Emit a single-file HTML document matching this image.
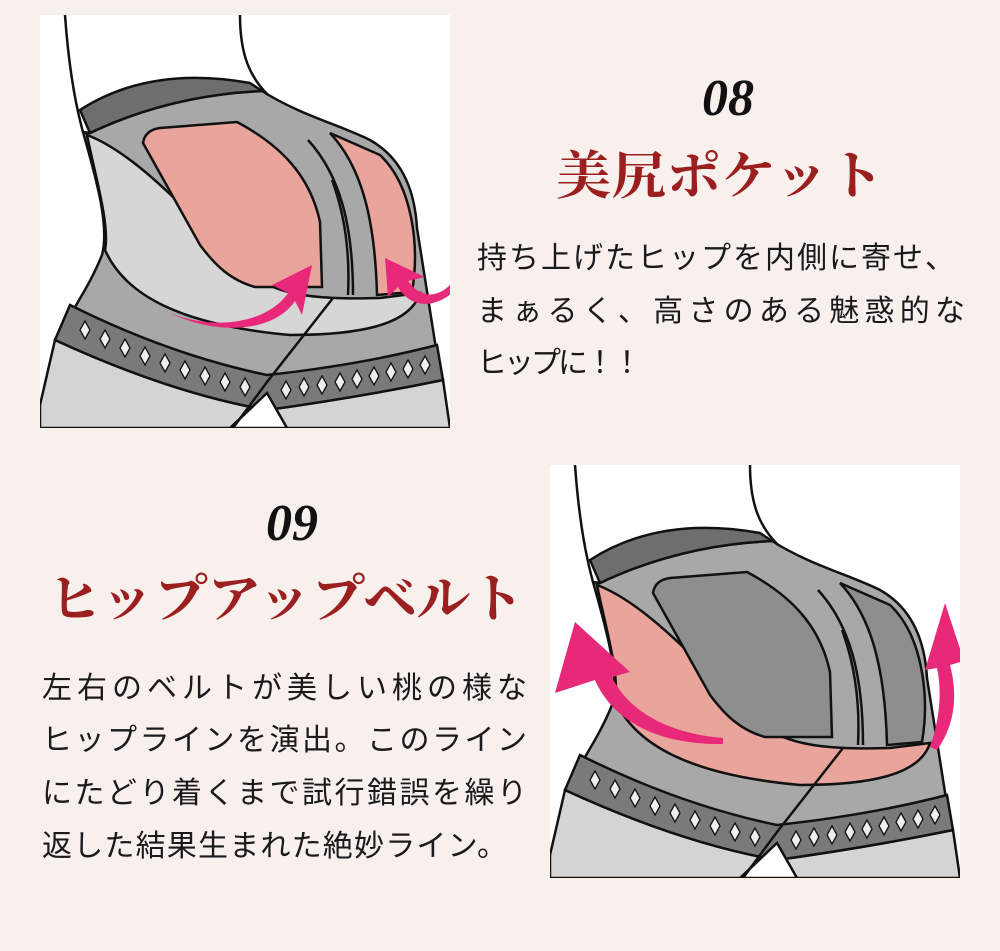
<!DOCTYPE html>
<html><head><meta charset="utf-8"><style>
html,body{margin:0;padding:0;background:#f7f0ed;}
svg{display:block}
.num{font-family:"Liberation Serif",serif;font-weight:bold;font-style:italic;font-size:52px;fill:#111}
.ttl{font-family:"Liberation Serif","Noto Serif CJK SC",serif;font-weight:bold;font-size:52px;fill:#9c1f20}
.bd{font-family:"Liberation Sans","Noto Sans CJK JP",sans-serif;font-size:30px;fill:#1a1a1a}
</style></head><body>
<svg width="1000" height="951" viewBox="0 0 1000 951" xmlns="http://www.w3.org/2000/svg">
<defs>
<polygon id="dm" points="0,-9 5,0 0,9 -5,0" fill="#eee" stroke="#111" stroke-width="1.3"/>
<clipPath id="cp"><rect x="0" y="0" width="410" height="413"/></clipPath>
<g id="base">
<rect x="0" y="0" width="410" height="413" fill="#fff"/>
<path d="M43,117 C55,160 70,210 62,240 C50,270 35,290 25,310 L0,390 L0,413 L410,413 L397,340 L377,213 C375,180 365,145 330,125 C300,110 260,100 222,76 Q130,80 50,118 Z" fill="#a8a8a8" stroke="#111" stroke-width="2.5"/>
<path d="M40,95 Q110,50 210,68 L222,76 Q130,80 50,118 Z" fill="#6e6e6e" stroke="#111" stroke-width="2.5"/>
<path d="M15,325 Q130,378 227,395 Q320,382 403,365 L410,413 L0,413 L0,390 Z" fill="#d4d4d4" stroke="#111" stroke-width="2.5"/>
<path d="M30,290 Q130,340 227,360 Q320,350 397,330 L403,365 Q320,382 227,395 Q130,378 15,325 Z" fill="#7a7a7a" stroke="#111" stroke-width="2.5"/>
<use href="#dm" x="45" y="315"/><use href="#dm" x="65" y="324"/><use href="#dm" x="85" y="333"/><use href="#dm" x="105" y="341"/><use href="#dm" x="125" y="348"/><use href="#dm" x="145" y="355"/><use href="#dm" x="165" y="361"/><use href="#dm" x="185" y="367"/><use href="#dm" x="205" y="372"/>
<use href="#dm" x="246" y="375"/><use href="#dm" x="264" y="372"/><use href="#dm" x="282" y="370"/><use href="#dm" x="300" y="367"/><use href="#dm" x="317" y="364"/><use href="#dm" x="334" y="361"/><use href="#dm" x="351" y="357"/><use href="#dm" x="368" y="354"/><use href="#dm" x="385" y="350"/>
<path d="M190,413 L227,378 L247,413 Z" fill="#fff" stroke="#111" stroke-width="2.5"/>
<path d="M25,0 Q30,70 43,117" fill="none" stroke="#111" stroke-width="2.5"/>
<path d="M200,0 C200,40 210,62 228,80" fill="none" stroke="#111" stroke-width="2.5"/>
</g>
</defs>
<g transform="translate(40,15)" clip-path="url(#cp)">
<use href="#base"/>
<path d="M47,120 C100,140 160,210 200,250 C230,280 270,285 340,283 L380,278 C370,310 320,320 250,320 C140,310 85,280 65,235 C70,210 55,160 47,120 Z" fill="#d6d6d6" stroke="#111" stroke-width="2.5"/>
<path d="M103,128 Q105,115 120,113 L197,107 C240,130 270,160 280,207 L282,272 L215,272 C190,265 175,250 160,230 Z" fill="#e9a59b" stroke="#111" stroke-width="2.5"/>
<path d="M290,118 C320,150 335,200 337,280 L372,277 C380,230 372,170 340,140 Z" fill="#e9a59b" stroke="#111" stroke-width="2.5"/>
<path d="M292,165 C305,200 310,240 308,280" fill="none" stroke="#111" stroke-width="2.5"/>
<path d="M268,125 C300,160 313,210 313,280" fill="none" stroke="#111" stroke-width="2.5"/>
<path d="M293,283 L227,367 L193,413" fill="none" stroke="#111" stroke-width="2.5"/>
<path d="M130,298 C180,318 230,305 248,278 L232,270 L272,250 L262,300 L255,286 C235,316 180,322 130,298 Z" fill="#e8297a"/>
<path d="M412,278 C390,296 368,290 358,272 L348,282 L345,243 L385,262 L368,266 C380,282 396,285 412,268 Z" fill="#e8297a"/>
</g>
<g transform="translate(550,465)" clip-path="url(#cp)">
<use href="#base"/>
<path d="M47,120 C100,140 160,210 200,250 C230,280 270,285 340,283 L380,278 C370,310 320,320 250,320 C140,310 85,280 65,235 C70,210 55,160 47,120 Z" fill="#e9a59b" stroke="#111" stroke-width="2.5"/>
<path d="M103,128 Q105,115 120,113 L197,107 C240,130 270,160 280,207 L282,272 L215,272 C190,265 175,250 160,230 Z" fill="#8e8e8e" stroke="#111" stroke-width="2.5"/>
<path d="M290,118 C320,150 335,200 337,280 L372,277 C380,230 372,170 340,140 Z" fill="#8e8e8e" stroke="#111" stroke-width="2.5"/>
<path d="M292,165 C305,200 310,240 308,280" fill="none" stroke="#111" stroke-width="2.5"/>
<path d="M268,125 C300,160 313,210 313,280" fill="none" stroke="#111" stroke-width="2.5"/>
<path d="M293,283 L227,367 L193,413" fill="none" stroke="#111" stroke-width="2.5"/>
<path d="M173,279 C100,280 60,250 45,215 L5,228 L25,157 L80,207 L62,212 C75,240 110,268 173,273 Z" fill="#e8297a"/>
<path d="M387,285 C405,260 408,230 400,200 L414,196 L395,138 L375,205 L387,203 C393,230 388,260 380,282 Z" fill="#e8297a"/>
</g>
<text class="num" x="728" y="115" text-anchor="middle">08</text>
<text class="ttl" x="556" y="194" textLength="328" lengthAdjust="spacingAndGlyphs">美尻ポケット</text>
<text class="bd" x="477" y="268" textLength="478" lengthAdjust="spacing">持ち上げたヒップを内側に寄せ、</text>
<text class="bd" x="477" y="321" textLength="488" lengthAdjust="spacing">まぁるく、高さのある魅惑的な</text>
<text class="bd" x="477" y="373" textLength="165" lengthAdjust="spacing">ヒップに！！</text>
<text class="num" x="292" y="540" text-anchor="middle">09</text>
<text class="ttl" x="48" y="617" textLength="476" lengthAdjust="spacingAndGlyphs">ヒップアップベルト</text>
<text class="bd" x="42" y="698" textLength="485" lengthAdjust="spacing">左右のベルトが美しい桃の様な</text>
<text class="bd" x="42" y="750" textLength="485" lengthAdjust="spacing">ヒップラインを演出。このライン</text>
<text class="bd" x="42" y="803" textLength="485" lengthAdjust="spacing">にたどり着くまで試行錯誤を繰り</text>
<text class="bd" x="42" y="856" textLength="465" lengthAdjust="spacing">返した結果生まれた絶妙ライン。</text>
</svg>
</body></html>
